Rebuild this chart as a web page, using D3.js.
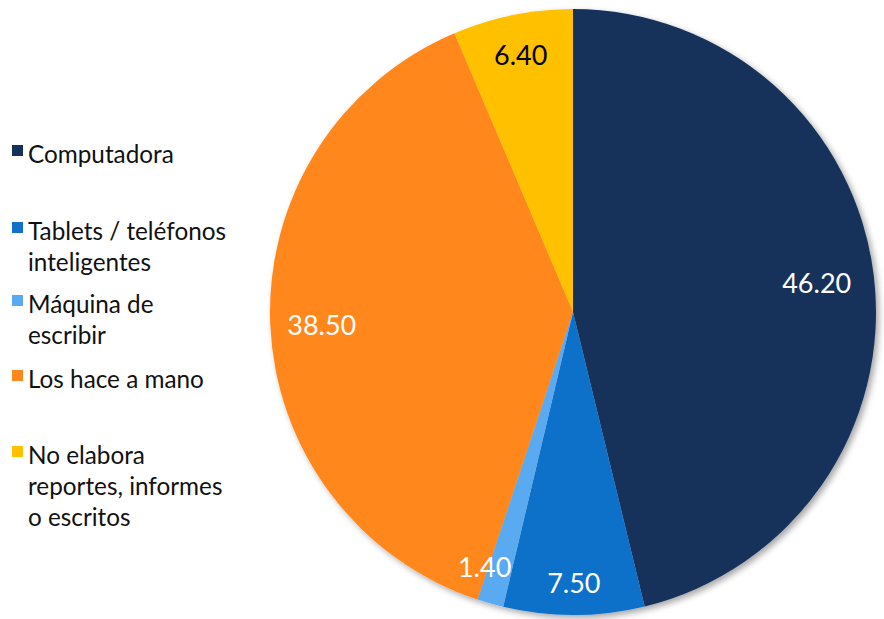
<!DOCTYPE html>
<html><head><meta charset="utf-8">
<script src="https://cdn.jsdelivr.net/npm/d3@7"></script>
<style>body{margin:0;background:#fff}svg{display:block}</style>
</head><body>
<svg id="c" width="884" height="619"></svg>
<script>
// Data
const categories = ["Computadora", "Tablets / teléfonos inteligentes", "Máquina de escribir", "Los hace a mano", "No elabora reportes, informes o escritos"];
const values = [46.20, 7.50, 1.40, 38.50, 6.40];
const valueLabels = ["46.20", "7.50", "1.40", "38.50", "6.40"];
const legendLines = [["Computadora"], ["Tablets / teléfonos", "inteligentes"], ["Máquina de", "escribir"], ["Los hace a mano"], ["No elabora", "reportes, informes", "o escritos"]];

// Layout / style
const colors = ["#14315A", "#1170C9", "#5AAAF2", "#FF871F", "#FFC000"];
const labelColors = ["#fff", "#fff", "#fff", "#fff", "#000"];
const labelRadiusFrac = [0.81, 0.89, 0.875, 0.83, 0.865];
const labelNudge = [[0,0],[0,2],[-16,0],[0,3],[0,0]];
const legendBaselines = [163, 240, 313, 388, 464];
const cx = 573, cy = 312, R = 303;

const svg = d3.select("#c");
const defs = svg.append("defs");
const f = defs.append("filter").attr("id","sh").attr("x","-10%").attr("y","-10%").attr("width","120%").attr("height","120%");
f.append("feDropShadow").attr("dx",3).attr("dy",3).attr("stdDeviation",3).attr("flood-color","#000").attr("flood-opacity",0.35);

const pie = d3.pie().sort(null).value(d => d)(values);
const arc = d3.arc().innerRadius(0).outerRadius(R);
const g = svg.append("g").attr("transform", `translate(${cx},${cy})`);
const slices = g.append("g").attr("filter","url(#sh)");
slices.selectAll("path").data(pie).join("path")
  .attr("d", arc).attr("fill", (d,i) => colors[i]);

g.selectAll("text.lbl").data(pie).join("text").attr("class","lbl")
  .attr("transform", (d,i) => {
    const a = d3.arc().innerRadius(R*labelRadiusFrac[i]).outerRadius(R*labelRadiusFrac[i]);
    const c = a.centroid(d);
    return `translate(${c[0]+labelNudge[i][0]},${c[1]+labelNudge[i][1]})`;
  })
  .attr("text-anchor","middle").attr("dy","0.36em")
  .attr("font-family","Lato, 'Open Sans', sans-serif").attr("font-size",27)
  .attr("fill", (d,i) => labelColors[i])
  .text((d,i) => valueLabels[i]);

const lg = svg.append("g");
legendLines.forEach((lines, i) => {
  const y0 = legendBaselines[i];
  lg.append("rect").attr("x",12).attr("y",y0-18).attr("width",11).attr("height",11).attr("fill",colors[i]);
  lines.forEach((t, j) => {
    lg.append("text").attr("x",28).attr("y",y0 + j*31)
      .attr("font-family","Lato, 'Open Sans', sans-serif").attr("font-size",24.3)
      .attr("fill","#111").text(t);
  });
});
</script>
</body></html>
